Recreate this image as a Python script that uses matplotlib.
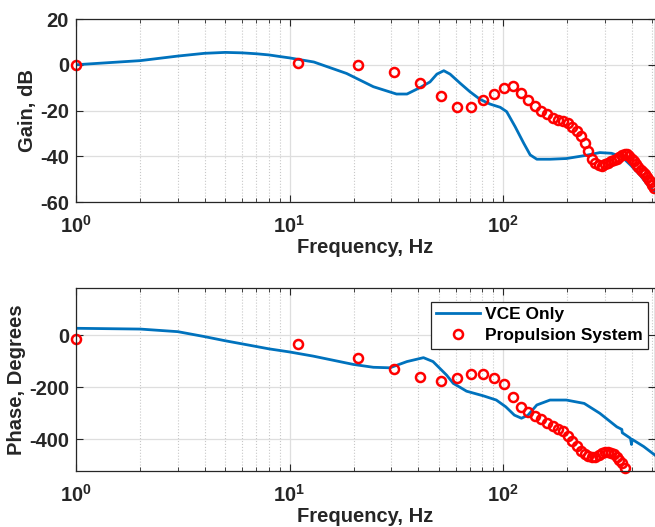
import matplotlib
matplotlib.use('Agg')
import matplotlib.pyplot as plt
from matplotlib.ticker import FuncFormatter, LogLocator, NullFormatter
import numpy as np

plt.rcParams['font.family'] = ['Liberation Sans', 'DejaVu Sans']
plt.rcParams['font.weight'] = 'bold'
plt.rcParams['axes.unicode_minus'] = False
plt.rcParams['mathtext.fontset'] = 'custom'
plt.rcParams['mathtext.rm'] = 'Liberation Sans:bold'
plt.rcParams['mathtext.bf'] = 'Liberation Sans:bold'
plt.rcParams['mathtext.it'] = 'Liberation Sans:bold'

# VCE only (line)
vce_gain_freq = [1, 2, 3, 4, 5, 6, 7, 8, 9, 10, 13, 18.5, 24.7, 31.7, 35.5, 41, 45.5,
                 49, 52.8, 56.5, 63, 70, 78, 87, 97, 104, 114, 125, 134, 144, 166,
                 198, 245, 284, 322, 360, 395, 438, 483, 513]
vce_gain = [0, 1.8, 3.8, 5.0, 5.4, 5.2, 4.8, 4.3, 3.6, 3.0, 1.2, -3.8, -9.6, -12.8,
            -12.8, -9.9, -7.5, -4.1, -2.6, -4.1, -8.1, -11.8, -15.1, -17.2, -18.6,
            -20.5, -27.1, -34.3, -39.4, -41.3, -41.3, -41.0, -39.6, -38.4, -38.7,
            -40.2, -43.8, -48.2, -53.3, -55.5]

vce_phase_freq = [1, 2, 3, 4, 5, 6, 8, 10, 12.9, 19.9, 24.7, 29.5, 35.5, 42.4, 47,
                  54.4, 58.5, 62.9, 67.5, 81, 93, 103, 113, 122, 131, 144, 166, 198,
                  240, 284, 341, 360, 362, 395, 400, 402, 456, 513]
vce_phase = [27, 24, 14, -5, -21, -33, -52, -64, -80, -112, -123, -125, -101, -86,
             -101, -153, -185, -200, -215, -233, -249, -275, -307, -319, -307, -268,
             -249, -249, -262, -300, -352, -362, -375, -396, -420, -400, -428, -460]

# Propulsion system (markers)
prop_freq = [1, 11, 21, 31, 41, 51, 61, 71, 81, 91, 101, 111, 121, 131, 141, 151,
             161, 171, 181, 191, 201, 211, 221, 231, 241, 251, 261, 271, 281, 291,
             301, 311, 321, 331, 341, 351, 361, 371, 381, 391, 401, 411, 421, 431,
             441, 451, 461, 471, 481, 491, 501, 511]
prop_gain = [0, 0.9, -0.1, -3.2, -7.9, -13.7, -18.5, -18.5, -15.4, -12.9, -10.3,
             -9.3, -12.5, -15.6, -17.9, -20.2, -21.5, -23.3, -24.3, -24.7, -25.3,
             -27.2, -29.1, -31.1, -34.0, -37.5, -41.0, -42.9, -44.0, -44.3, -43.6,
             -42.8, -42.1, -41.6, -41.0, -40.2, -39.4, -38.9, -39.0, -39.9, -41.0,
             -42.2, -43.5, -44.8, -45.9, -46.9, -47.9, -49.0, -50.4, -51.4, -52.6,
             -54.0]
prop_phase = [-15, -35, -87, -130, -160, -176, -166, -150, -149, -165, -188, -238,
              -275, -294, -310, -323, -336, -348, -360, -370, -387, -408, -426, -444,
              -457, -466, -469, -468, -461, -452, -448, -448, -452, -458, -470, -481,
              -493, -510]

blue = '#0072BD'
dark = '#262626'
W, H = 655, 527
fig = plt.figure(figsize=(W / 100, H / 100), dpi=100)
ax1 = fig.add_axes([76 / W, (H - 202) / H, 579 / W, 183 / H])
ax2 = fig.add_axes([76 / W, (H - 471) / H, 579 / W, 183 / H])

def pow_fmt(v, _):
    e = int(round(np.log10(v)))
    return r'$\mathbf{10^{%d}}$' % e

for ax in (ax1, ax2):
    ax.set_xscale('log')
    ax.set_xlim(1, 515)
    ax.xaxis.set_major_locator(LogLocator(base=10))
    ax.xaxis.set_minor_locator(LogLocator(base=10, subs=np.arange(2, 10)))
    ax.xaxis.set_major_formatter(FuncFormatter(pow_fmt))
    ax.xaxis.set_minor_formatter(NullFormatter())
    ax.grid(True, which='major', color='#dedede', linewidth=0.9)
    ax.grid(True, which='minor', axis='x', color='#c8c8c8', linestyle=':', linewidth=0.8)
    ax.set_axisbelow(True)
    ax.tick_params(which='both', direction='in', top=True, right=True, labelsize=14.5,
                   colors=dark)
    ax.tick_params(axis='x', which='major', pad=9)
    ax.tick_params(axis='y', which='major', pad=5)
    ax.tick_params(which='major', length=5, width=0.8)
    ax.tick_params(which='minor', length=3, width=0.6)
    for s in ax.spines.values():
        s.set_color(dark)
        s.set_linewidth(0.9)
    ax.set_xlabel('Frequency, Hz', fontsize=14.5, fontweight='bold', color=dark,
                  labelpad=1.5)

ax1.plot(vce_gain_freq, vce_gain, color=blue, linewidth=2, label='VCE Only')
ax1.plot(prop_freq, prop_gain, 'o', mfc='none', mec='red', ms=6.5, mew=1.8,
         clip_on=False, label='Propulsion System')
ax1.set_ylim(-60, 20)
ax1.set_yticks([-60, -40, -20, 0, 20])
ax1.set_ylabel('Gain, dB', fontsize=14.5, fontweight='bold', color=dark, labelpad=2)

ax2.plot(vce_phase_freq, vce_phase, color=blue, linewidth=2, label='VCE Only')
ax2.plot(prop_freq[:len(prop_phase)], prop_phase, 'o', mfc='none', mec='red', ms=6.5,
         mew=1.8, clip_on=False, label='Propulsion System')
ax2.set_ylim(-522, 182)
ax2.set_yticks([-400, -200, 0])
ax2.set_ylabel('Phase, Degrees', fontsize=14.5, fontweight='bold', color=dark,
               labelpad=2)

leg = ax2.legend(loc='upper right', bbox_to_anchor=(0.988, 0.925), borderaxespad=0,
                 fancybox=False, framealpha=1, edgecolor=dark,
                 prop={'size': 12.5, 'weight': 'bold'}, handlelength=2.5,
                 borderpad=0.3, labelspacing=0.35, handletextpad=0.3)
leg.get_frame().set_linewidth(0.9)

fig.savefig('out.png', dpi=100)
